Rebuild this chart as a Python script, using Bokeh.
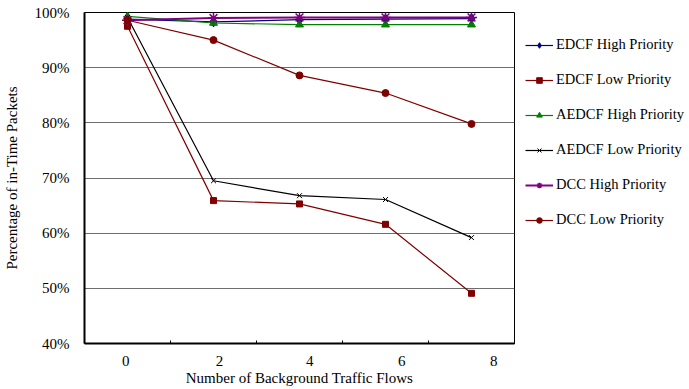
from bokeh.plotting import figure
from bokeh.models import FixedTicker, PrintfTickFormatter, Legend, LegendItem, Range1d
from bokeh.embed import file_html
from bokeh.resources import INLINE

# data: categories (background flows) and series (percentage of in-time packets)
flows = [0, 1, 2, 3, 4]  # category index of each measurement
tick_labels = ["0", "2", "4", "6", "8"]
edcf_high = [98.8, 98.3, 98.7, 98.8, 98.9]
edcf_low = [97.5, 65.9, 65.3, 61.6, 49.1]
aedcf_high = [99.3, 98.1, 97.8, 97.8, 97.8]
aedcf_low = [99.1, 69.5, 66.8, 66.1, 59.2]
dcc_high = [98.6, 99.0, 99.1, 99.1, 99.1]
dcc_low = [98.6, 95.0, 88.6, 85.4, 79.8]
y_ticks = [40, 50, 60, 70, 80, 90, 100]

FONT = "Liberation Serif"

p = figure(output_backend="svg", toolbar_location=None,
           frame_width=430, frame_height=331,
           min_border_left=74, min_border_top=12, min_border_bottom=32,
           min_border_right=169,
           x_range=Range1d(-0.5, 4.5), y_range=Range1d(40, 100))

p.background_fill_color = "white"
p.outline_line_color = "black"
p.outline_line_width = 1

# axes
label_pos = [-0.02, 1.07, 2.12, 3.19, 4.26]
p.xaxis.ticker = FixedTicker(ticks=label_pos,
                             minor_ticks=[-0.5, 0.5, 1.5, 2.5, 3.5, 4.5])
p.xaxis.major_label_overrides = {pos: lab for pos, lab in zip(label_pos, tick_labels)}
p.xaxis.major_tick_line_color = None
p.xaxis.minor_tick_in = 3
p.xaxis.minor_tick_out = 0
p.xaxis.minor_tick_line_color = "black"
p.xaxis.axis_line_width = 2
p.xaxis.axis_line_color = "black"
p.xaxis.major_label_standoff = 6
p.xaxis.axis_label = "Number of Background Traffic Flows"
p.xaxis.axis_label_standoff = 1

p.yaxis.ticker = FixedTicker(ticks=y_ticks)
p.yaxis.formatter = PrintfTickFormatter(format="%d%%")
p.yaxis.major_tick_line_color = None
p.yaxis.minor_tick_line_color = None
p.yaxis.axis_line_width = 2
p.yaxis.axis_line_color = "black"
p.yaxis.major_label_standoff = 9
p.yaxis.axis_label = "Percentage of in-Time Packets"
p.yaxis.axis_label_standoff = 12

for ax in (p.xaxis, p.yaxis):
    ax.major_label_text_font = FONT
    ax.major_label_text_font_size = "15px"
    ax.major_label_text_color = "black"
    ax.axis_label_text_font = FONT
    ax.axis_label_text_font_size = "15px"
    ax.axis_label_text_font_style = "normal"
    ax.axis_label_text_color = "black"

p.xgrid.grid_line_color = None
p.ygrid.grid_line_color = "#6e6e6e"
p.ygrid.grid_line_width = 1

series = [
    ("EDCF High Priority", edcf_high, "#000080", "diamond", 10, 1.2),
    ("EDCF Low Priority", edcf_low, "#800000", "square", 6, 1.2),
    ("AEDCF High Priority", aedcf_high, "#008000", "triangle", 8, 1.2),
    ("AEDCF Low Priority", aedcf_low, "#000000", "x", 7, 1.2),
    ("DCC High Priority", dcc_high, "#800080", "asterisk", 11, 2.0),
    ("DCC Low Priority", dcc_low, "#800000", "circle", 7, 1.2),
]

items = []
for name, ys, color, marker, size, lw in series:
    r1 = p.line(flows, ys, line_color=color, line_width=lw)
    mlw = 1.5 if marker in ("asterisk",) else 1.0
    r2 = p.scatter(flows, ys, marker=marker, size=size, fill_color=color,
                   line_color=color, line_width=mlw)
    items.append(LegendItem(label=name, renderers=[r1, r2]))

legend = Legend(items=items, location=(11, 115))
legend.border_line_color = None
legend.background_fill_alpha = 0
legend.label_text_font = FONT
legend.label_text_font_size = "14.5px"
legend.label_text_color = "black"
legend.glyph_width = 28
legend.glyph_height = 14
legend.label_height = 14
legend.spacing = 18
legend.padding = 0
legend.margin = 0
legend.label_standoff = 3
p.add_layout(legend, "right")

open("out.html", "w").write(file_html(p, INLINE))
